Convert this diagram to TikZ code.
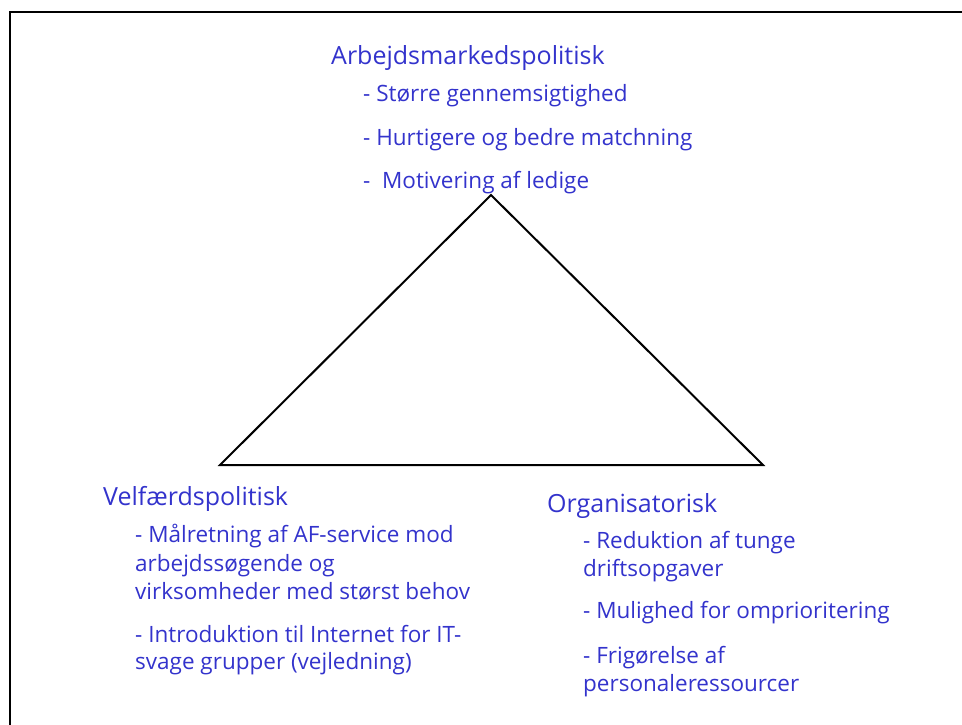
\documentclass[tikz,border=0pt]{standalone}
\usepackage{fontspec}
\setmainfont{Open Sans}
\definecolor{txtblue}{RGB}{51,51,204}
\begin{document}
\begin{tikzpicture}[x=1pt,y=-1pt,
  head/.style={anchor=base west,inner sep=0pt,text=txtblue,font=\fontsize{25}{30}\selectfont},
  item/.style={anchor=base west,inner sep=0pt,text=txtblue,font=\fontsize{22.5}{27}\selectfont},
  frame/.style={line width=2pt,black},
  tri/.style={line width=2pt,black,line join=miter}]
\useasboundingbox (0,0) rectangle (962,725);
\draw[frame] (10,730) -- (10,12) -- (970,12);
\coordinate (apex) at (491,195);
\coordinate (bl) at (220,465);
\coordinate (br) at (763,465);
\draw[tri] (apex) -- (bl) -- (br) -- cycle;
% top
\node[head] (t0) at (331,65) {Arbejdsmarkedspolitisk};
\node[item] (t1) at (363,102) {- Større gennemsigtighed};
\node[item] (t2) at (363,145) {- Hurtigere og bedre matchning};
\node[item] (t3) at (363,188) {-~ Motivering af ledige};
% left
\node[head] (l0) at (103,505) {Velfærdspolitisk};
\node[item] (l1) at (135,542) {- Målretning af AF-service mod};
\node[item] (l2) at (135,571) {arbejdssøgende og};
\node[item] (l3) at (135,599) {virksomheder med størst behov};
\node[item] (l4) at (135,642) {- Introduktion til Internet for IT-};
\node[item] (l5) at (135,669) {svage grupper (vejledning)};
% right
\node[head] (r0) at (547,512) {Organisatorisk};
\node[item] (r1) at (583,548) {- Reduktion af tunge};
\node[item] (r2) at (583,576) {driftsopgaver};
\node[item] (r3) at (583,618) {- Mulighed for omprioritering};
\node[item] (r4) at (583,663) {- Frigørelse af};
\node[item] (r5) at (583,691) {personaleressourcer};
\end{tikzpicture}
\end{document}
